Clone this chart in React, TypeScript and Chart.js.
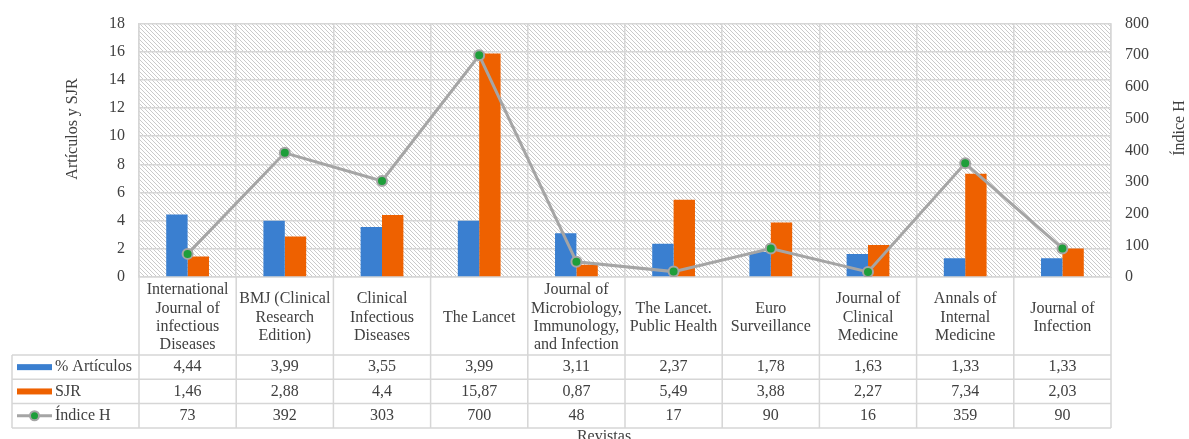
import { useEffect, useRef } from 'react';
import { Chart, registerables } from 'chart.js';

Chart.register(...registerables);

const categories: string[][] = [
  ['International', 'Journal of', 'infectious', 'Diseases'],
  ['BMJ (Clinical', 'Research', 'Edition)'],
  ['Clinical', 'Infectious', 'Diseases'],
  ['The Lancet'],
  ['Journal of', 'Microbiology,', 'Immunology,', 'and Infection'],
  ['The Lancet.', 'Public Health'],
  ['Euro', 'Surveillance'],
  ['Journal of', 'Clinical', 'Medicine'],
  ['Annals of', 'Internal', 'Medicine'],
  ['Journal of', 'Infection'],
];
const articulos = [4.44, 3.99, 3.55, 3.99, 3.11, 2.37, 1.78, 1.63, 1.33, 1.33];
const sjr = [1.46, 2.88, 4.4, 15.87, 0.87, 5.49, 3.88, 2.27, 7.34, 2.03];
const indiceH = [73, 392, 303, 700, 48, 17, 90, 16, 359, 90];
const seriesNames = ['% Artículos', 'SJR', 'Índice H'];
const leftAxisTitle = 'Artículos y SJR';
const rightAxisTitle = 'Índice H';
const xAxisTitle = 'Revistas';

const FONT = '"Liberation Serif", "Times New Roman", serif';
const TEXT = '#404040';
const GRID = '#d6d6d6';
const BLUE = '#3A7FD0';
const ORANGE = '#EE6100';
const LINEGRAY = '#A5A5A5';
const GREEN = '#1E9E3A';

const fmt = (v: number) => String(v).replace('.', ',');

function makeHatch(ctx: CanvasRenderingContext2D) {
  const c = document.createElement('canvas');
  c.width = 4;
  c.height = 4;
  const g = c.getContext('2d')!;
  g.fillStyle = '#ffffff';
  g.fillRect(0, 0, 4, 4);
  g.strokeStyle = '#cacaca';
  g.lineWidth = 1;
  g.beginPath();
  g.moveTo(-1, -1);
  g.lineTo(5, 5);
  g.moveTo(-1, 3);
  g.lineTo(1, 5);
  g.moveTo(3, -1);
  g.lineTo(5, 1);
  g.stroke();
  return ctx.createPattern(c, 'repeat');
}

const hatchPlugin = {
  id: 'hatchBg',
  beforeDraw(chart: any) {
    const { ctx, chartArea } = chart;
    ctx.save();
    ctx.fillStyle = makeHatch(ctx) || '#eee';
    ctx.fillRect(chartArea.left, chartArea.top, chartArea.right - chartArea.left, chartArea.bottom - chartArea.top);
    ctx.restore();
  },
};

const tablePlugin = {
  id: 'dataTable',
  afterDraw(chart: any) {
    const { ctx, chartArea } = chart;
    const x = chart.scales.x;
    const n = categories.length;
    const step = x.getPixelForValue(1) - x.getPixelForValue(0);
    const rowTop = chartArea.bottom + 78;
    const rowH = 24.3;
    const tableLeft = 12;
    const tableBottom = rowTop + rowH * 3;
    ctx.save();
    ctx.strokeStyle = GRID;
    ctx.lineWidth = 1.5;
    ctx.beginPath();
    for (let i = 0; i <= n; i++) {
      const bx = i < n ? x.getPixelForValue(i) - step / 2 : x.getPixelForValue(n - 1) + step / 2;
      ctx.moveTo(bx, chartArea.bottom);
      ctx.lineTo(bx, tableBottom);
    }
    ctx.moveTo(tableLeft, rowTop);
    ctx.lineTo(tableLeft, tableBottom);
    for (let k = 0; k <= 3; k++) {
      const yy = rowTop + k * rowH;
      ctx.moveTo(tableLeft, yy);
      ctx.lineTo(chartArea.right, yy);
    }
    ctx.stroke();

    // legend keys
    const keyL = 17;
    const keyR = 52;
    const rows = [articulos, sjr, indiceH];
    for (let r = 0; r < 3; r++) {
      const cy = rowTop + r * rowH + rowH / 2;
      if (r === 0 || r === 1) {
        ctx.fillStyle = r === 0 ? BLUE : ORANGE;
        ctx.fillRect(keyL, cy - 3, keyR - keyL, 6);
      } else {
        ctx.strokeStyle = LINEGRAY;
        ctx.lineWidth = 3;
        ctx.beginPath();
        ctx.moveTo(keyL, cy);
        ctx.lineTo(keyR, cy);
        ctx.stroke();
        ctx.beginPath();
        ctx.arc((keyL + keyR) / 2, cy, 4.5, 0, Math.PI * 2);
        ctx.fillStyle = GREEN;
        ctx.fill();
        ctx.lineWidth = 2;
        ctx.strokeStyle = LINEGRAY;
        ctx.stroke();
      }
      ctx.fillStyle = TEXT;
      ctx.font = `16px ${FONT}`;
      ctx.textBaseline = 'middle';
      ctx.textAlign = 'left';
      ctx.fillText(seriesNames[r], keyR + 3, cy);
      ctx.textAlign = 'center';
      rows[r].forEach((v, i) => {
        ctx.fillText(fmt(v), x.getPixelForValue(i), cy);
      });
    }

    // axis titles
    ctx.fillStyle = TEXT;
    ctx.font = `16px ${FONT}`;
    ctx.textAlign = 'center';
    ctx.textBaseline = 'middle';
    ctx.fillText(xAxisTitle, 604, 437);
    ctx.save();
    ctx.translate(73, 129);
    ctx.rotate(-Math.PI / 2);
    ctx.fillText(leftAxisTitle, 0, 0);
    ctx.restore();
    ctx.save();
    ctx.translate(1180, 128);
    ctx.rotate(-Math.PI / 2);
    ctx.fillText(rightAxisTitle, 0, 0);
    ctx.restore();
    ctx.restore();
  },
};

export default function App() {
  const ref = useRef<HTMLCanvasElement | null>(null);
  useEffect(() => {
    if (!ref.current) return;
    const chart = new Chart(ref.current, {
      type: 'bar',
      data: {
        labels: categories,
        datasets: [
          {
            type: 'line',
            label: seriesNames[2],
            data: indiceH,
            yAxisID: 'y1',
            borderColor: LINEGRAY,
            borderWidth: 3,
            pointRadius: 5,
            pointBackgroundColor: GREEN,
            pointBorderColor: LINEGRAY,
            pointBorderWidth: 2,
            tension: 0,
            order: 0,
          } as any,
          {
            label: seriesNames[0],
            data: articulos,
            backgroundColor: BLUE,
            yAxisID: 'y',
            barPercentage: 1,
            categoryPercentage: 0.44,
            order: 1,
          },
          {
            label: seriesNames[1],
            data: sjr,
            backgroundColor: ORANGE,
            yAxisID: 'y',
            barPercentage: 1,
            categoryPercentage: 0.44,
            order: 2,
          },
        ],
      },
      options: {
        animation: false,
        responsive: true,
        maintainAspectRatio: false,
        layout: { padding: { top: 21, left: 0, right: 0, bottom: 0 } },
        plugins: { legend: { display: false }, tooltip: { enabled: false } },
        scales: {
          x: {
            offset: true,
            grid: { display: true, offset: true, color: GRID, lineWidth: 1.5, drawTicks: false },
            border: { display: true, color: GRID, width: 1.5 },
            ticks: {
              autoSkip: false,
              maxRotation: 0,
              minRotation: 0,
              padding: 13,
              crossAlign: 'center',
              color: TEXT,
              font: { family: FONT, size: 16, lineHeight: 1.15 },
            },
            afterFit: (s: any) => {
              s.height = 162;
            },
          },
          y: {
            position: 'left',
            min: 0,
            max: 18,
            ticks: { stepSize: 2, padding: 14, color: TEXT, font: { family: FONT, size: 16 } },
            grid: { color: GRID, lineWidth: 1.5, drawTicks: false },
            border: { display: true, color: GRID, width: 1.5 },
            afterFit: (s: any) => {
              s.width = 139;
            },
          },
          y1: {
            position: 'right',
            min: 0,
            max: 800,
            ticks: { stepSize: 100, padding: 14, color: TEXT, font: { family: FONT, size: 16 } },
            grid: { display: false, drawTicks: false },
            border: { display: true, color: GRID, width: 1.5 },
            afterFit: (s: any) => {
              s.width = 78;
            },
          },
        },
      },
      plugins: [hatchPlugin, tablePlugin],
    });
    return () => chart.destroy();
  }, []);
  return (
    <div style={{ position: 'absolute', left: 0, top: 0, width: 1189, height: 439, background: '#fff' }}>
      <canvas ref={ref} />
    </div>
  );
}
